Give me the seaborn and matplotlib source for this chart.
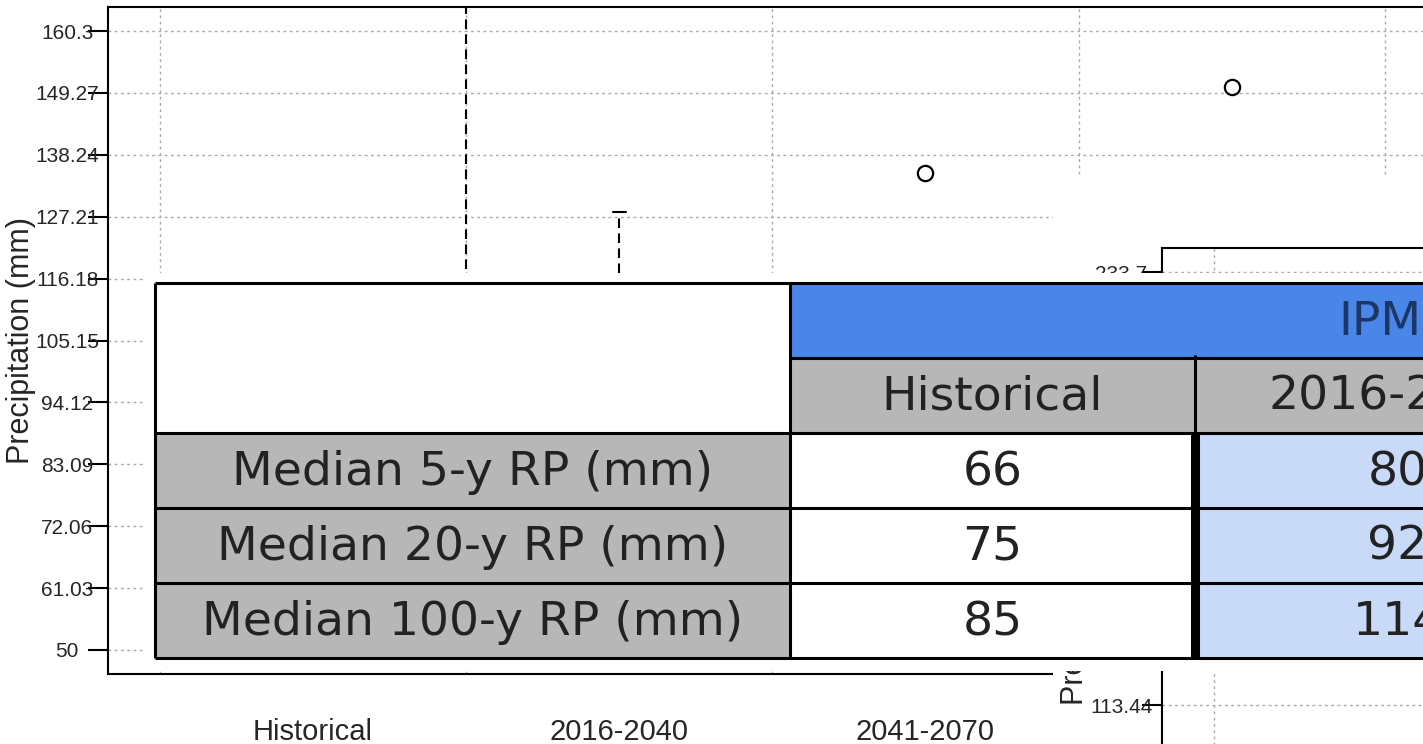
import numpy as np
import pandas as pd
import matplotlib
matplotlib.use('Agg')
import matplotlib.pyplot as plt
from matplotlib.patches import Rectangle
import seaborn as sns

# Boxplot data, precipitation (mm)
periods = ['Historical', '2016-2040', '2041-2070', '2071-2100']
box_pos = [0, 0.5, 1, 2, 3]
hist_vals = [56, 60, 63, 65, 66, 68, 71, 74, 79, 90]
mid_vals = [55, 62, 70, 85, 95, 100, 108, 114, 120, 170]
p2016_vals = [62, 70, 76, 80, 84, 88, 94, 100, 108, 128]
p2041_vals = [68, 75, 80, 84, 88, 92, 97, 102, 110, 135]
p2071_vals = [74, 82, 88, 92, 97, 102, 107, 112, 118, 150.3]

y_ticks = [50, 61.03, 72.06, 83.09, 94.12, 105.15, 116.18, 127.21, 138.24, 149.27, 160.3]
y_tick_labels = ['50', '61.03', '72.06', '83.09', '94.12', '105.15', '116.18',
                 '127.21', '138.24', '149.27', '160.3']
y2_ticks = [61.9, 79.08, 96.26, 113.44, 130.62, 147.8, 164.98, 182.16, 199.34, 216.52, 233.7]
y2_tick_labels = ['61.9', '79.08', '96.26', '113.44', '130.62', '147.8', '164.98',
                  '182.16', '199.34', '216.52', '233.7']

# Table contents
row_labels = ['Median 5-y RP (mm)', 'Median 20-y RP (mm)', 'Median 100-y RP (mm)']
col_labels = ['Historical', '2016-2040']
header_label = 'IPM'
hist_rp = [66, 75, 85]
ipm_2016_rp = [80, 92, 114]

sns.set_style('white')
plt.rcParams['font.family'] = ['Liberation Sans', 'DejaVu Sans']

W, H = 1423, 744
fig = plt.figure(figsize=(W / 100, H / 100), dpi=100)


def px_axes(left, top, width, height):
    return fig.add_axes([left / W, (H - top - height) / H, width / W, height / H])


grid_kw = dict(color='#aaaaaa', linewidth=1, linestyle=(0, (2, 2.5)))


def style_axes(a, ticks, labels, ylim):
    a.set_xlim(-0.669, 4.0)
    a.set_ylim(*ylim)
    a.set_xticks(range(len(periods)), labels=periods)
    a.set_xticks(np.arange(-0.5, 4, 1), minor=True)
    a.set_yticks(ticks, labels=labels)
    a.set_axisbelow(True)
    a.grid(True, which='minor', axis='x', **grid_kw)
    a.grid(True, which='major', axis='y', **grid_kw)
    a.grid(False, which='major', axis='x')
    a.tick_params(axis='x', which='minor', length=0)
    a.tick_params(axis='x', which='major', length=13.7, width=1.5, pad=18,
                  labelsize=21, color='black')
    a.tick_params(axis='y', length=14.4, width=1.5, pad=15, labelsize=15,
                  color='black', left=True)
    for lbl in a.get_yticklabels():
        lbl.set_ha('center')
    for s in a.spines.values():
        s.set_linewidth(1.5)
        s.set_color('black')
    a.set_xlabel('')
    a.set_ylabel('Precipitation (mm)', fontsize=22)
    a.yaxis.set_label_coords(-72 / 1430, 0.5)


# main boxplot
series = [hist_vals, mid_vals, p2016_vals, p2041_vals, p2071_vals]
df = pd.DataFrame({
    'pos': np.repeat(box_pos, [len(v) for v in series]),
    'value': np.concatenate(series),
})

ax = px_axes(108, 7, 1430, 667)
sns.boxplot(data=df, x='pos', y='value', native_scale=True, fill=False,
            color='black', linecolor='black', linewidth=1.5, width=0.17,
            whiskerprops=dict(linestyle=(0, (4.6, 2.6))),
            flierprops=dict(marker='o', markersize=11, markeredgewidth=1.6,
                            markeredgecolor='black', markerfacecolor='none'),
            ax=ax)
style_axes(ax, y_ticks, y_tick_labels, (45.7, 164.6))
ax.set_zorder(0)

# second panel lying on top (white background)
fig.add_artist(Rectangle((1053 / W, 0), 1, (H - 175) / H, transform=fig.transFigure,
                         facecolor='white', edgecolor='none', zorder=1))
ax2 = px_axes(1162, 248, 1430, 667)
ax2.set_facecolor('white')
style_axes(ax2, y2_ticks, y2_tick_labels, (55.2, 240.4))
ax2.set_zorder(2)

# table overlay
tab = fig.add_axes([0, 0, 1, 1])
tab.set_xlim(0, W)
tab.set_ylim(H, 0)
tab.axis('off')
tab.set_zorder(3)

x0, x1, x2, x3 = 155, 790, 1195, 1600
y_top, y_sub, y_data = 283, 358, 433
rh = 75
lw = 2.2
txt_kw = dict(family='DejaVu Sans', fontsize=34, color='#222222', ha='center', va='center')

y_bottom = y_data + len(row_labels) * rh
# white margin of the pasted table
tab.add_patch(Rectangle((x0 - 10, y_top - 10), x3, y_bottom - y_top + 23,
                        facecolor='white', edgecolor='none'))
tab.add_patch(Rectangle((x0, y_top), x1 - x0, y_data - y_top, facecolor='white'))
tab.add_patch(Rectangle((x1, y_top), x3 - x1, rh, facecolor='#4a86e8'))
tab.add_patch(Rectangle((x1, y_sub), x3 - x1, rh, facecolor='#b7b7b7'))
tab.text(1338, y_top + rh / 2 + 2, header_label, family='DejaVu Sans', fontsize=34,
         color='#1c3766', ha='left', va='center')
for j, lab in enumerate(col_labels):
    cx = [x1, x2][j]
    tab.text(cx + (x2 - x1) / 2, y_sub + rh / 2 + 2, lab, **txt_kw)

for i, lab in enumerate(row_labels):
    y = y_data + i * rh
    tab.add_patch(Rectangle((x0, y), x1 - x0, rh, facecolor='#b7b7b7'))
    tab.add_patch(Rectangle((x1, y), x2 - x1, rh, facecolor='white'))
    tab.add_patch(Rectangle((x2, y), x3 - x2, rh, facecolor='#c9daf8'))
    tab.text((x0 + x1) / 2, y + rh / 2 + 2, lab, **txt_kw)
    tab.text((x1 + x2) / 2, y + rh / 2 + 2, str(hist_rp[i]), **txt_kw)
    tab.text((x2 + x3) / 2, y + rh / 2 + 2, str(ipm_2016_rp[i]), **txt_kw)

tab.hlines([y_top], x0, x3, color='black', lw=lw)
tab.hlines([y_sub], x1, x3, color='black', lw=lw)
tab.hlines([y_data + i * rh for i in range(len(row_labels) + 1)], x0, x3, color='black', lw=lw)
tab.vlines([x0, x1], y_top, y_bottom, color='black', lw=lw)
tab.vlines([x2], y_sub - 3, y_data, color='black', lw=lw)
tab.vlines([x2], y_data, y_bottom, color='black', lw=6.5)

fig.savefig('out.png', dpi=100)
